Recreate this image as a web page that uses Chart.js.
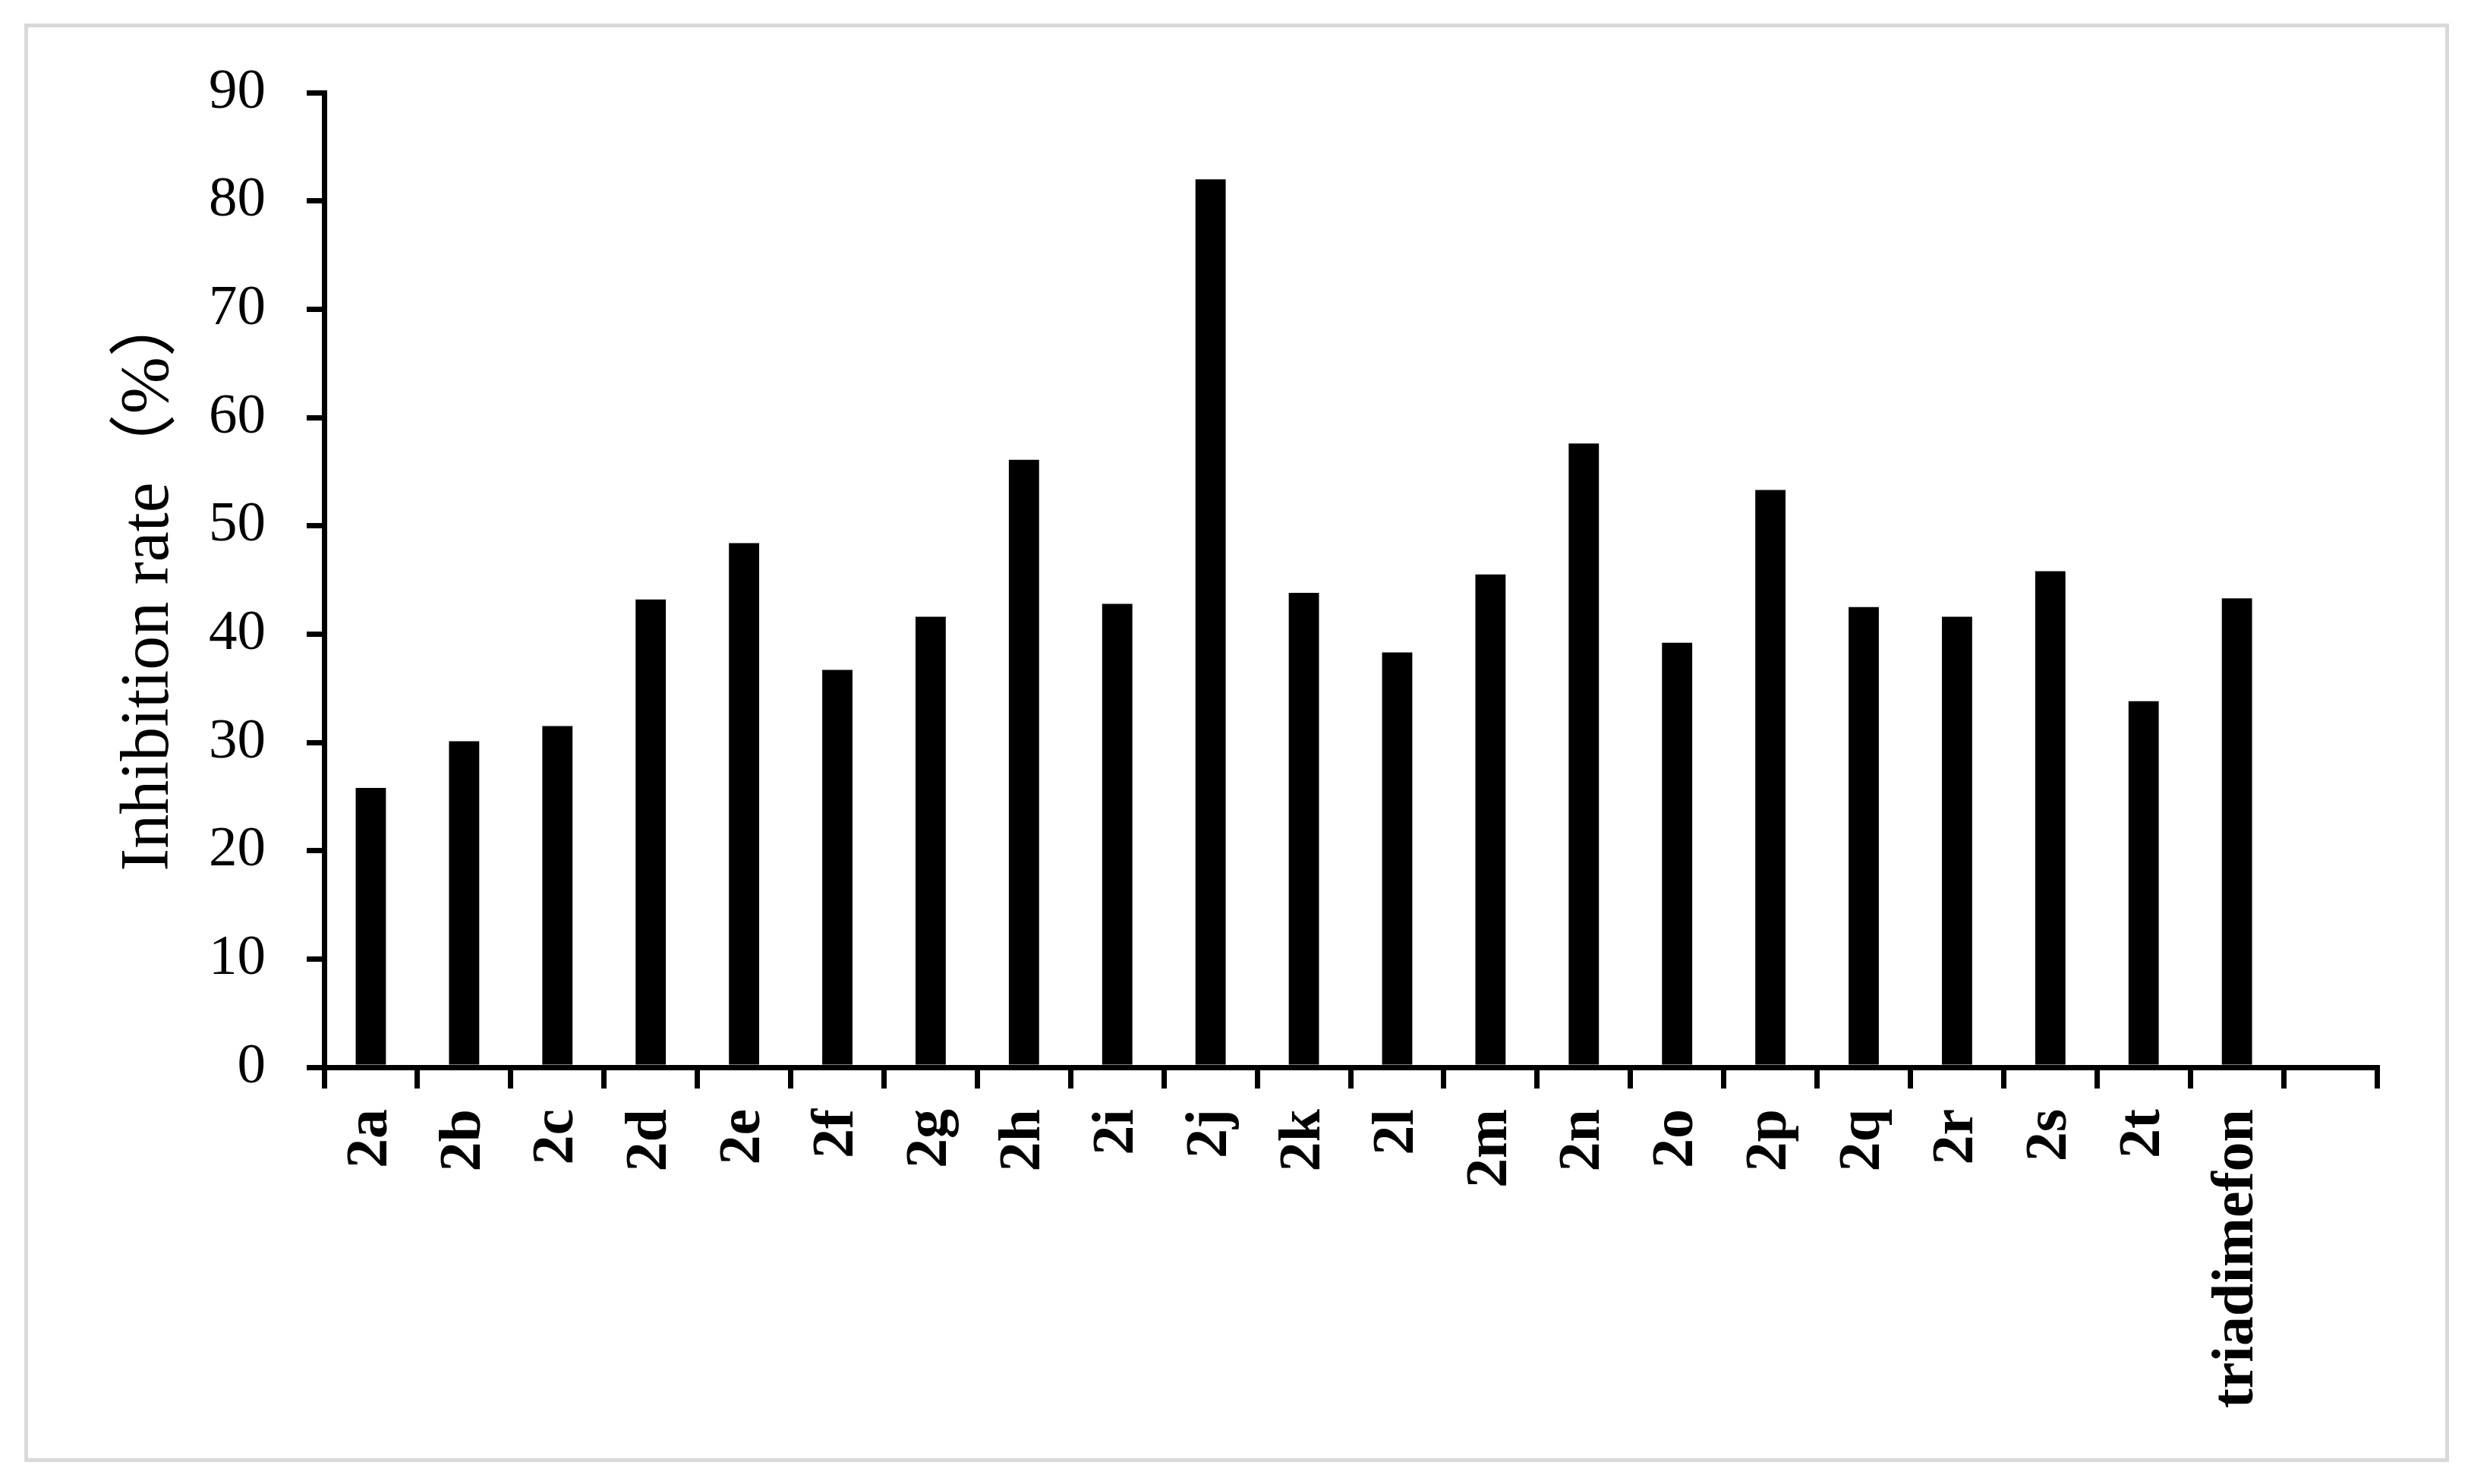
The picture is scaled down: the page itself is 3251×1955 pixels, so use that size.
<!DOCTYPE html>
<html>
<head>
<meta charset="utf-8">
<script src="https://cdn.jsdelivr.net/npm/chart.js@4"></script>
<style>
  html, body { margin:0; padding:0; background:#fff; }
  #frame { position:absolute; left:32px; top:31px; width:3194px; height:1895px; box-sizing:border-box; border:5px solid #d9d9d9; }
  #chart { position:absolute; left:0; top:0; }
</style>
</head>
<body>
<div id="frame"></div>
<canvas id="chart" width="3251" height="1955"></canvas>
<script>
// ===== DATA =====
const compounds = ['2a','2b','2c','2d','2e','2f','2g','2h','2i','2j','2k','2l','2m','2n','2o','2p','2q','2r','2s','2t','triadimefon',''];
const inhibition = [25.8,30.1,31.5,43.2,48.4,36.7,41.6,56.1,42.8,82.0,43.8,38.3,45.5,57.6,39.2,53.3,42.5,41.6,45.8,33.8,43.3,null];
const yTicks = [0,10,20,30,40,50,60,70,80,90];
const yTitle = 'Inhibition rate（%）';

const SERIF = '"Liberation Serif", "Times New Roman", "Noto Sans CJK SC", serif';

new Chart(document.getElementById('chart'), {
  type:'bar',
  data:{
    labels:compounds,
    datasets:[{data:inhibition, backgroundColor:'#000', borderWidth:0, barPercentage:0.324, categoryPercentage:1}]
  },
  options:{
    responsive:false, animation:false, devicePixelRatio:1,
    layout:{padding:{left:0, top:122, right:120, bottom:0}},
    plugins:{legend:{display:false}, tooltip:{enabled:false}},
    scales:{
      x:{
        grid:{display:true, drawOnChartArea:false, drawTicks:true, tickLength:28, color:'#000', lineWidth:7, offset:true},
        border:{display:true, color:'#000', width:7},
        ticks:{autoSkip:false, maxRotation:90, minRotation:90, padding:27, color:'#000',
               font:{family:SERIF, size:78, weight:'bold'}},
        afterFit:s => { s.height = 549; }
      },
      y:{
        min:0, max:90,
        afterBuildTicks:s => { s.ticks = yTicks.map(v => ({value:v})); },
        grid:{display:true, drawOnChartArea:false, drawTicks:true, tickLength:23, color:'#000', lineWidth:7},
        border:{display:true, color:'#000', width:7},
        ticks:{padding:54, color:'#000', font:{family:SERIF, size:75}},
        title:{display:true, text:yTitle, color:'#000', padding:{top:143, bottom:0},
               font:{family:SERIF, size:90}},
        afterFit:s => { s.width = 427; }
      }
    }
  }
});
</script>
</body>
</html>
